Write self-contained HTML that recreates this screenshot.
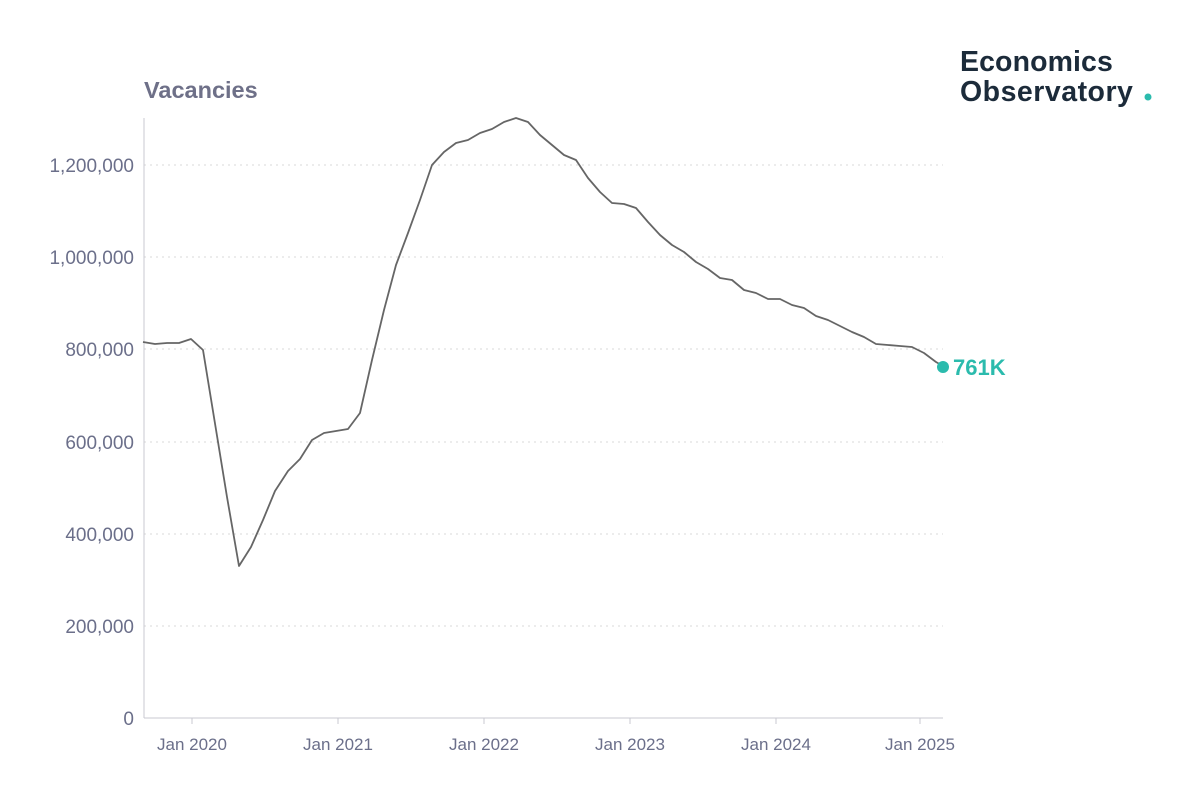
<!DOCTYPE html>
<html><head><meta charset="utf-8"><style>
body{margin:0;background:#fff;width:1200px;height:800px;overflow:hidden;font-family:"Liberation Sans",sans-serif}
</style></head><body>
<svg width="1200" height="800" xmlns="http://www.w3.org/2000/svg" font-family="Liberation Sans, sans-serif">
<text x="144" y="98" font-size="23.5" font-weight="bold" fill="#6e7088">Vacancies</text>
<g fill="#1c2b3a" font-size="28.5" font-weight="bold">
<text x="960" y="71" letter-spacing="0.1">Economics</text>
<text x="960" y="101" letter-spacing="0.5">Observatory</text>
</g>
<circle cx="1148" cy="97" r="3.5" fill="#2bbbad"/>
<g stroke="#d8d8d8" stroke-dasharray="2,4" stroke-width="1">
<line x1="144" x2="943" y1="165" y2="165"/><line x1="144" x2="943" y1="257" y2="257"/>
<line x1="144" x2="943" y1="349" y2="349"/><line x1="144" x2="943" y1="442" y2="442"/>
<line x1="144" x2="943" y1="534" y2="534"/><line x1="144" x2="943" y1="626" y2="626"/>
</g>
<line x1="144" x2="144" y1="118" y2="718" stroke="#c8c8d0"/>
<line x1="144" x2="943" y1="718" y2="718" stroke="#c8c8d0"/>
<g stroke="#c8c8d0"><line x1="192" x2="192" y1="718" y2="724"/><line x1="338" x2="338" y1="718" y2="724"/><line x1="484" x2="484" y1="718" y2="724"/><line x1="630" x2="630" y1="718" y2="724"/><line x1="776" x2="776" y1="718" y2="724"/><line x1="920" x2="920" y1="718" y2="724"/></g>
<g fill="#6b6f8a" font-size="19" text-anchor="end">
<text x="134" y="172">1,200,000</text><text x="134" y="264">1,000,000</text><text x="134" y="356">800,000</text>
<text x="134" y="449">600,000</text><text x="134" y="541">400,000</text><text x="134" y="633">200,000</text><text x="134" y="725">0</text>
</g>
<g fill="#6b6f8a" font-size="17" text-anchor="middle">
<text x="192" y="750">Jan 2020</text><text x="338" y="750">Jan 2021</text><text x="484" y="750">Jan 2022</text>
<text x="630" y="750">Jan 2023</text><text x="776" y="750">Jan 2024</text><text x="920" y="750">Jan 2025</text>
</g>
<polyline fill="none" stroke="#666" stroke-width="1.8" stroke-linejoin="round" points="143,342 155,344 167,343 179,343 191,339 203,350 227,497 239,566 251,547 263,520 275,491 288,471 300,459 312,440 324,433 336,431 348,429 360,413 372,360 384,310 396,265 408,233 420,200 432,165 444,152 456,143 468,140 480,133 492,129 504,122 516,118 528,122 540,135 552,145 564,155 576,160 588,178 600,192 612,203 624,204 636,208 648,222 660,235 672,245 684,252 696,262 708,269 720,278 732,280 744,290 756,293 768,299 780,299 792,305 804,308 816,316 828,320 840,326 852,332 864,337 876,344 888,345 900,346 912,347 924,353 936,362 943,366"/>
<circle cx="943" cy="367" r="6" fill="#2bbbad"/>
<text x="953" y="375" font-size="22" font-weight="bold" fill="#2bbbad">761K</text>
</svg>
</body></html>
